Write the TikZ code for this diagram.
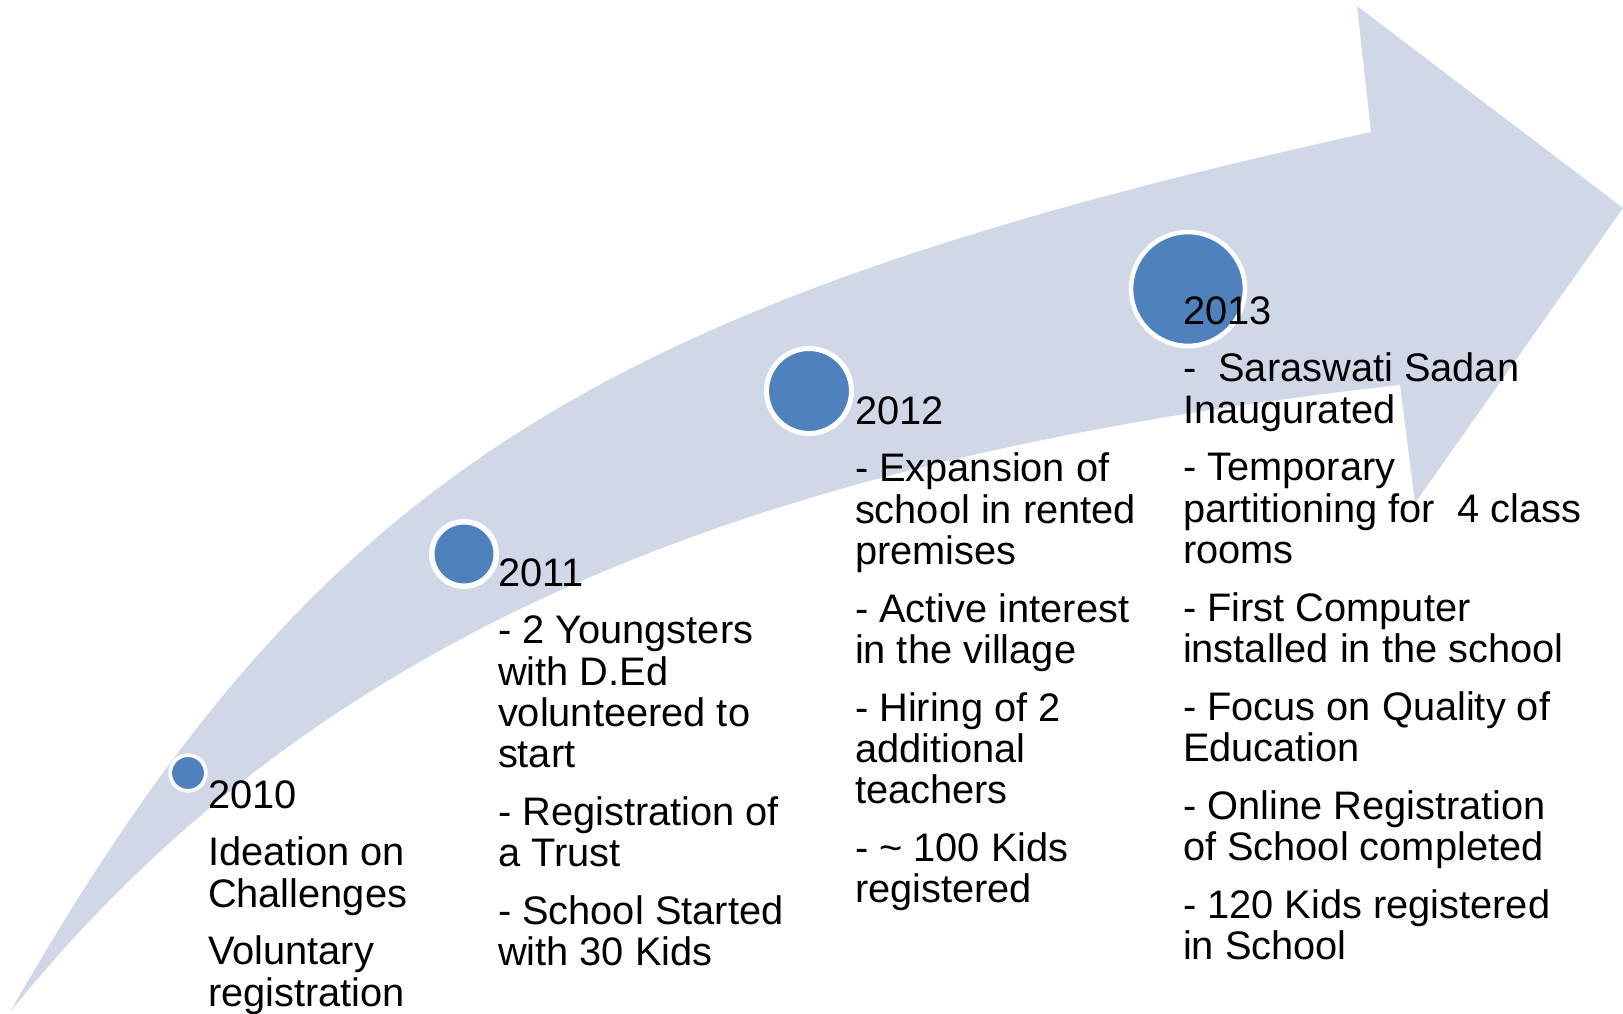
\documentclass[tikz,border=0pt]{standalone}
\usepackage{fontspec}
\setmainfont{Liberation Sans}
\definecolor{bandblue}{HTML}{D0D8E8}
\definecolor{dotblue}{HTML}{4F81BD}
\begin{document}
\begin{tikzpicture}[x=1pt,y=-1pt,
  dot/.style={circle, fill=dotblue, draw=white, inner sep=0pt, outer sep=0pt},
  txt/.style={anchor=north west, align=left, inner sep=0pt, outer sep=0pt,
              font=\fontsize{39.8}{41.4}\selectfont}]
\useasboundingbox (0,0) rectangle (1623,1014);
% curved arrow
\fill[bandblue] (10,1012) .. controls (314,481) and (586,305) .. (1371,132)
  -- (1357,6) -- (1623,208) -- (1415,503) -- (1400,385)
  .. controls (721,460) and (304,648) .. (10,1012) -- cycle;
% milestones
\node[dot, line width=3.7pt, minimum size=35.7pt] (c10) at (188,773) {};
\node[dot, line width=5.5pt, minimum size=64.5pt] (c11) at (464,554) {};
\node[dot, line width=5pt, minimum size=85pt] (c12) at (809,391) {};
\node[dot, line width=4.6pt, minimum size=114pt] (c13) at (1188,289) {};
% texts
\node[txt] (t10) at (208,778) {\rule{0pt}{30pt}2010\\[16.2pt]
  Ideation on\\ Challenges\\[16.2pt]
  Voluntary\\ registration};
\node[txt] (t11) at (498,556) {\rule{0pt}{30pt}2011\\[16.2pt]
  - 2 Youngsters\\ with D.Ed\\ volunteered to\\ start\\[16.2pt]
  - Registration of\\ a Trust\\[16.2pt]
  - School Started\\ with 30 Kids};
\node[txt] (t12) at (855,394) {\rule{0pt}{30pt}2012\\[16.2pt]
  - Expansion of\\ school in rented\\ premises\\[16.2pt]
  - Active interest\\ in the village\\[16.2pt]
  - Hiring of 2\\ additional\\ teachers\\[16.2pt]
  - \textasciitilde{} 100 Kids\\ registered};
\node[txt] (t13) at (1183,294) {\rule{0pt}{30pt}2013\\[16.2pt]
  -\ \ Saraswati Sadan\\ Inaugurated\\[16.2pt]
  - Temporary\\ partitioning for\ \ 4 class\\ rooms\\[16.2pt]
  - First Computer\\ installed in the school\\[16.2pt]
  - Focus on Quality of\\ Education\\[16.2pt]
  - Online Registration\\ of School completed\\[16.2pt]
  - 120 Kids registered\\ in School};
\end{tikzpicture}
\end{document}
